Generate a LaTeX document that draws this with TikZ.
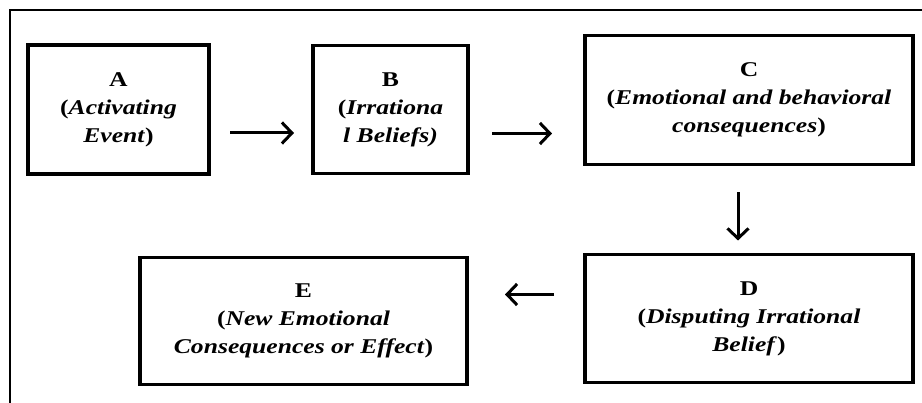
\documentclass[tikz,border=0pt]{standalone}
\usepackage{fontspec}
\setmainfont{Liberation Serif}[FakeStretch=1.22]
\usepackage{tikz}
\usetikzlibrary{arrows.meta}
\usetikzlibrary{shapes, positioning, calc}

\begin{document}
\begin{tikzpicture}[x=1pt,y=1pt,->,>={Straight Barb[length=10pt,width=21pt]},line width=3pt,
  abc node/.style={rectangle,draw,line width=3.4pt,outer sep=0pt,align=center,
    font=\fontsize{21}{28}\selectfont\bfseries}]
  \useasboundingbox (0,0) rectangle (922,403);
  \draw[-,line width=1.6pt] (10,-10) |- (932,393);
  \node[abc node, minimum width=181pt, minimum height=129pt] (A) at (118.5,293.5)
    {A\\(\textit{Activating}\\\textit{Event})};
  \node[abc node, minimum width=155pt, minimum height=128pt, right=104pt of A] (B)
    {B\\(\textit{Irrationa}\\\textit{l Beliefs)}};
  \node[abc node, minimum width=328pt, minimum height=129pt, right=117pt of B, yshift=9.5pt] (C)
    {C\\(\textit{Emotional and behavioral}\\\textit{consequences})};
  \node[abc node, minimum width=328pt, minimum height=128pt, below=90pt of C] (D)
    {D\\(\textit{Disputing Irrational}\\\textit{Belief})};
  \node[abc node, minimum width=327pt, minimum height=127pt, left=118pt of D, yshift=-2.5pt] (E)
    {E\\(\textit{New Emotional}\\\textit{Consequences or Effect})};
  \path
    ([yshift=-23.5pt]A.east) edge[shorten <=21pt, shorten >=19pt] ([yshift=-23.5pt]A.east -| B.west)
    ([yshift=-24pt]B.east) edge[shorten <=24pt, shorten >=33pt] ([yshift=-24pt]B.east -| C.west)
    ([xshift=-11pt]C.south) edge[shorten <=28pt, shorten >=14pt] ([xshift=-11pt]C.south |- D.north)
    ([yshift=24pt]D.west) edge[shorten <=31pt, shorten >=38pt] ([yshift=24pt]D.west -| E.east);
\end{tikzpicture}
\end{document}
